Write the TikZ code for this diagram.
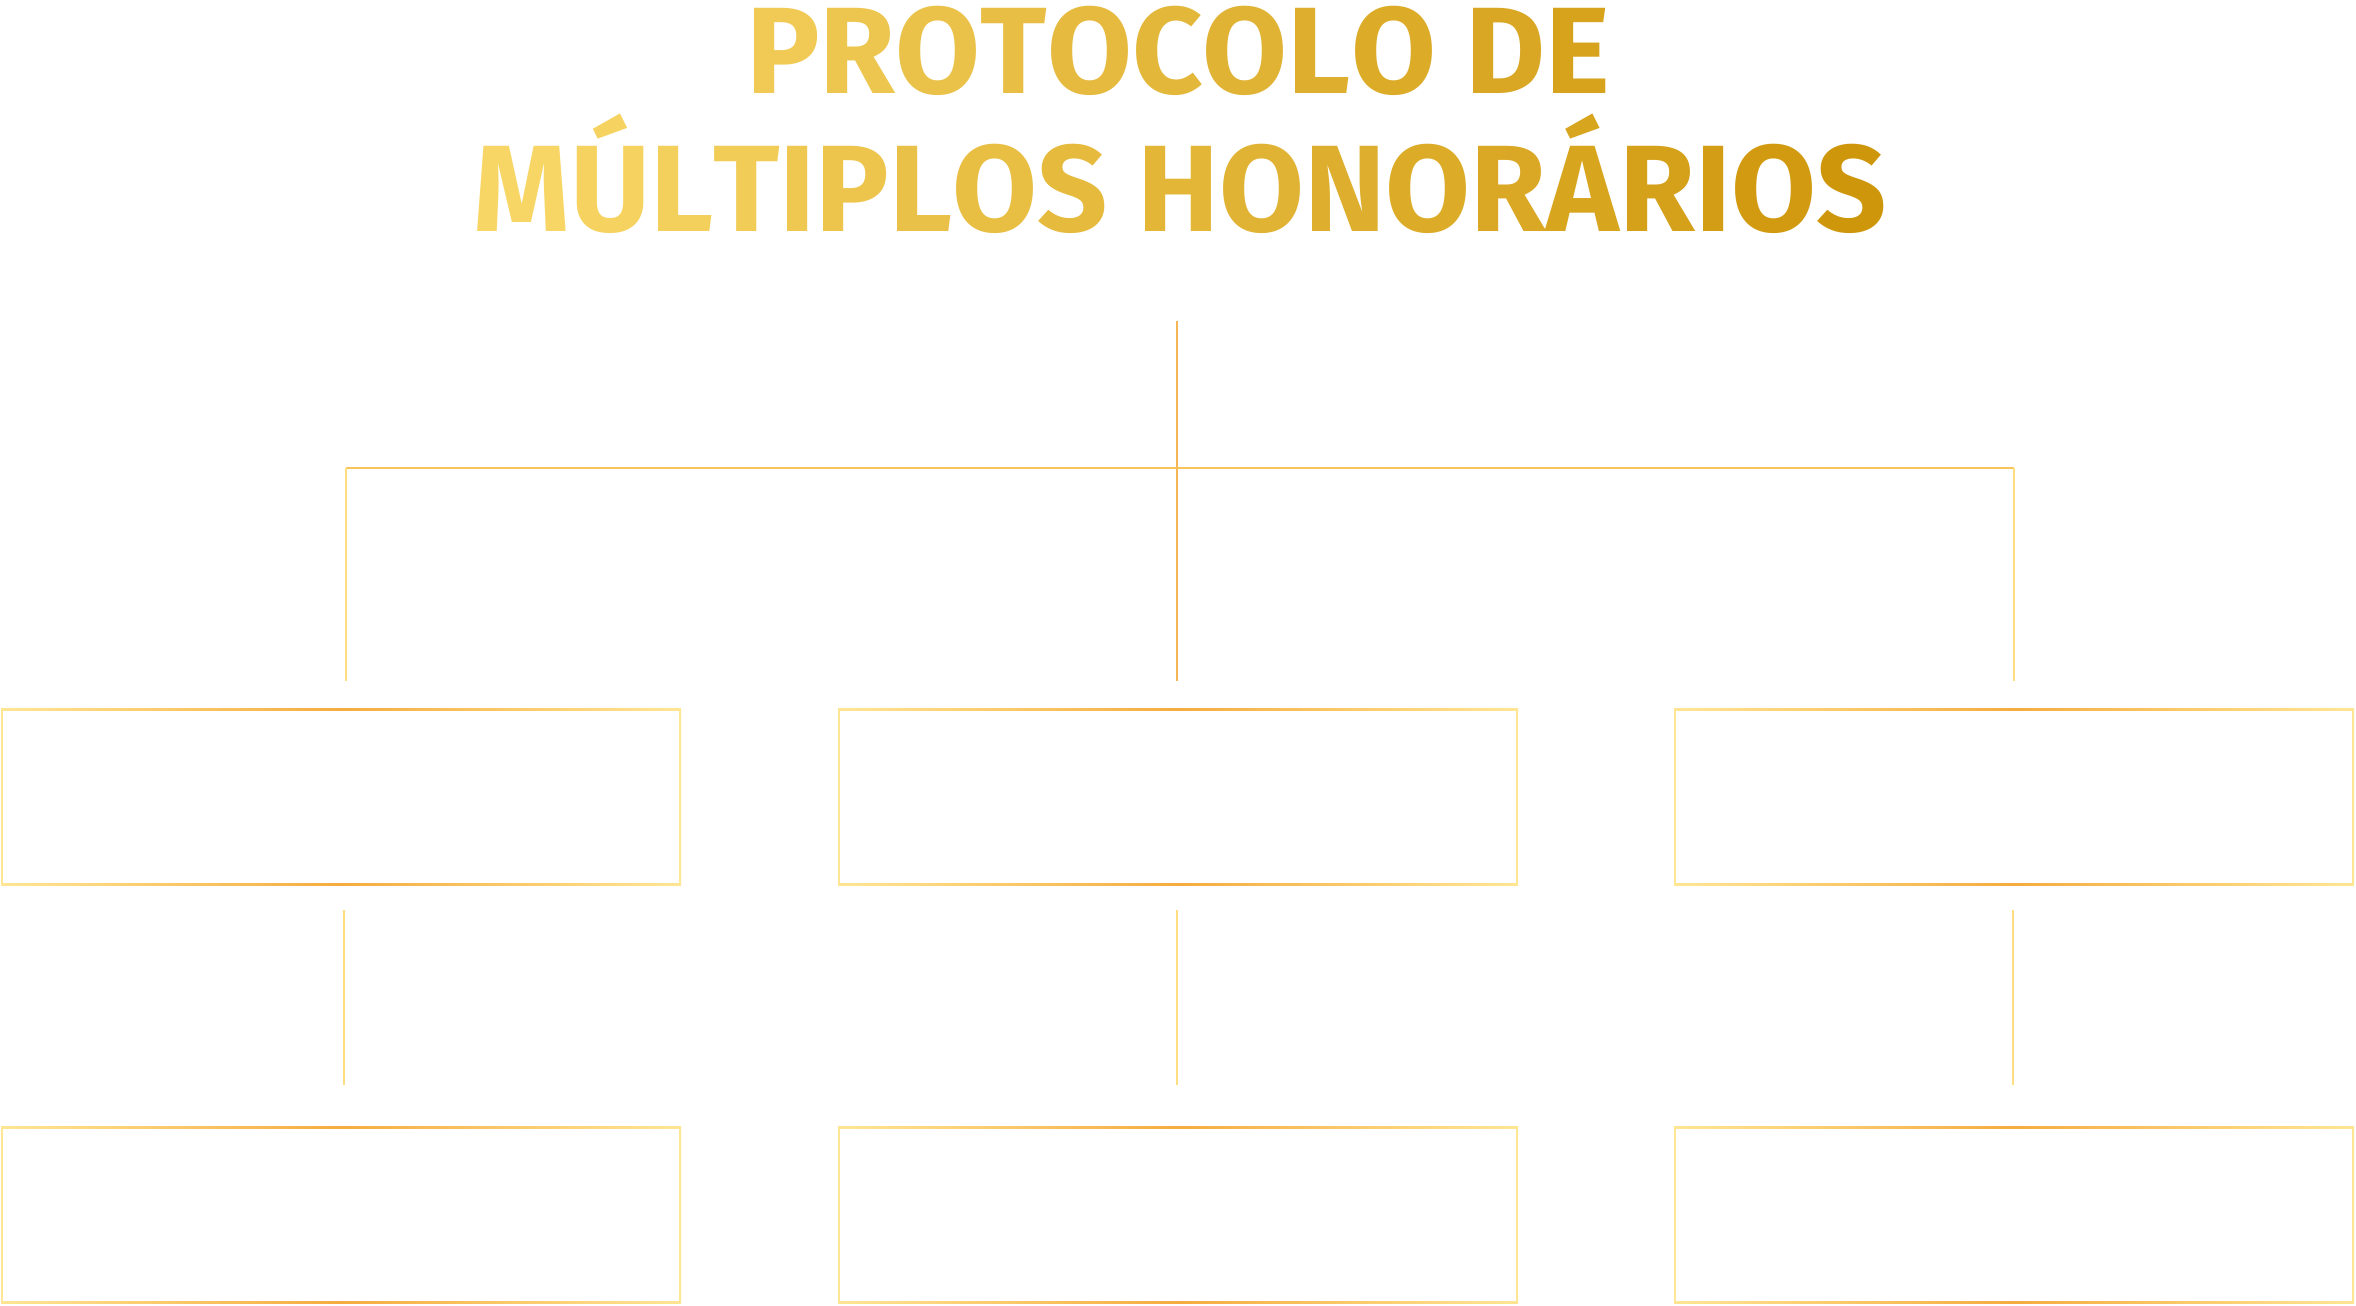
\documentclass[tikz,border=0pt]{standalone}
\usepackage{fontspec}
\setmainfont{Fira Sans}
\usepackage{xcolor}
\usepackage{tikz}
\usetikzlibrary{positioning,calc}
\definecolor{goldL}{RGB}{248,214,102}
\definecolor{goldR}{RGB}{206,150,10}
\definecolor{linkOrange}{RGB}{245,182,86}
\definecolor{linkYellow}{RGB}{254,222,128}
\definecolor{barGold}{RGB}{249,196,92}
\definecolor{edgeLight}{RGB}{255,230,148}
\definecolor{edgeOrange}{RGB}{245,172,64}

\begin{document}
\begin{tikzpicture}[
		box/.style={minimum width=6.8cm, minimum height=1.77cm, inner sep=0pt,
			path picture={
				\shade[left color=edgeLight, right color=edgeLight, middle color=edgeOrange]
				(path picture bounding box.south west) rectangle (path picture bounding box.north east);
				\fill[white] ([shift={(0.6pt,0.6pt)}]path picture bounding box.south west)
				rectangle ([shift={(-0.6pt,-0.6pt)}]path picture bounding box.north east);
			}},
		link/.style={draw=linkOrange, line width=0.5pt},
		drop/.style={draw=linkYellow, line width=0.5pt},
		bar/.style={draw=barGold, line width=0.5pt},
		title/.style={font=\bfseries\fontsize{35}{40}\selectfont, anchor=base, inner sep=0pt}
		]
		\useasboundingbox (0,0) rectangle (23.56,13.06);
		
		% ===== titulo =====
		\node[title] (T1) at (11.78,12.12) {%
			\foreach \c [count=\i from 1, evaluate=\i as \p using int(19+6*(\i-1))] in {P,R,O,T,O,C,O,L,O}{\textcolor{goldR!\p!goldL}{\c}}~%
			\foreach \c [count=\i from 10, evaluate=\i as \p using int(19+6*(\i-1))] in {D,E}{\textcolor{goldR!\p!goldL}{\c}}};
		\node[title] (T2) at (11.80,10.74) {%
			\foreach \c [count=\i from 1, evaluate=\i as \p using int(100*(\i-1)/18)] in {M,Ú,L,T,I,P,L,O,S}{\textcolor{goldR!\p!goldL}{\c}}~%
			\foreach \c [count=\i from 10, evaluate=\i as \p using int(100*(\i-1)/18)] in {H,O,N,O,R,Á,R,I,O,S}{\textcolor{goldR!\p!goldL}{\c}}};
		
		% ===== caixas =====
		\foreach \x [count=\i from 1] in {3.41,11.78,20.14}{
			\node[box] (A\i) at (\x,5.09) {};
			\node[box] (B\i) at (\x,0.91) {};
		}
		
		% ===== ligacoes =====
		\coordinate (top) at (11.77,9.85);
		\coordinate (hub) at (11.77,8.38);
		\coordinate (hubL) at ($(hub -| A1.north)+(0.05,0)$);
		\coordinate (hubR) at (hub -| A3.north);
		\draw[link] (top) -- (hub);
		\draw[bar] (hubL) -- (hubR);
		\draw[drop, shorten >=0.27cm] (hubL) -- (hubL |- A1.north);
		\draw[link, shorten >=0.27cm] (hub) -- (hub |- A2.north);
		\draw[drop, shorten >=0.27cm] (hubR) -- (A3.north);
		\foreach \i/\dx in {1/0.03,2/-0.01,3/-0.01}
			\draw[drop, shorten <=0.235cm, shorten >=0.41cm] ($(A\i.south)+(\dx,0)$) -- ($(B\i.north)+(\dx,0)$);
		
	\end{tikzpicture}
\end{document}
